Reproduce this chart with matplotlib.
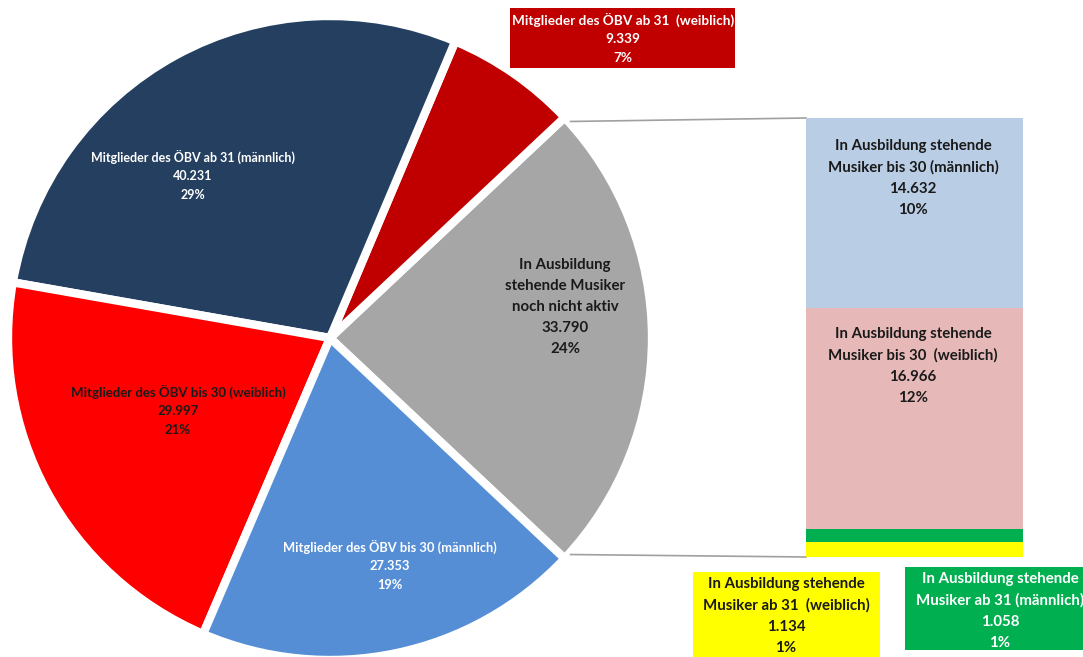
import numpy as np
import matplotlib.pyplot as plt
from matplotlib.patches import Rectangle

plt.rcParams['font.family'] = ['Lato', 'DejaVu Sans']

W, H = 1083, 657

# ------------------------------------------------
# Data
# ------------------------------------------------
pie_labels = [
    "In Ausbildung\nstehende Musiker\nnoch nicht aktiv",
    "Mitglieder des ÖBV ab 31  (weiblich)",
    "Mitglieder des ÖBV ab 31 (männlich)",
    "Mitglieder des ÖBV bis 30 (weiblich)",
    "Mitglieder des ÖBV bis 30 (männlich)",
]
pie_values = [33790, 9339, 40231, 29997, 27353]
pie_colors = ["#A6A6A6", "#C00000", "#243F60", "#FF0000", "#558ED5"]

bar_labels = [
    "In Ausbildung stehende\nMusiker ab 31  (weiblich)",
    "In Ausbildung stehende\nMusiker ab 31 (männlich)",
    "In Ausbildung stehende\nMusiker bis 30  (weiblich)",
    "In Ausbildung stehende\nMusiker bis 30 (männlich)",
]
bar_values = [1134, 1058, 16966, 14632]
bar_colors = ["#FFFF00", "#00B050", "#E6B9B8", "#B9CDE5"]


def fmt(v):
    return f"{v:,}".replace(",", ".")


def pct(v, total):
    return f"{round(100 * v / total)}%"


total = sum(pie_values)

fig = plt.figure(figsize=(W / 100, H / 100), dpi=100)
ax = fig.add_axes([0, 0, 1, 1])

# ------------------------------------------------
# Pie
# ------------------------------------------------
cx, cy, R = 330, H - 338, 322
start = -360 * pie_values[0] / total / 2
wedges, _ = ax.pie(pie_values, colors=pie_colors, startangle=start, counterclock=True,
                   center=(cx, cy), radius=R,
                   wedgeprops=dict(edgecolor="white", linewidth=6))

# ------------------------------------------------
# Bar (stacked, scaled so it spans the gray slice height)
# ------------------------------------------------
bar_x, bar_w = 914.5, 217
bar_bottom, bar_top = H - 557, H - 118
scale = (bar_top - bar_bottom) / sum(bar_values)
heights = [v * scale for v in bar_values]
bottoms = bar_bottom + np.concatenate([[0], np.cumsum(heights)[:-1]])
ax.bar([bar_x] * len(bar_values), heights, width=bar_w, bottom=bottoms,
       color=bar_colors, linewidth=0, zorder=2)

# connector lines from gray slice to bar
g = wedges[0]
for ang, yb in [(g.theta2, bar_top), (g.theta1, bar_bottom)]:
    px = cx + R * np.cos(np.radians(ang)) + 6
    py = cy + R * np.sin(np.radians(ang)) - np.sign(np.sin(np.radians(ang))) * 4
    ax.plot([px, bar_x - bar_w / 2], [py, yb], color="#A0A0A0", lw=1.2, zorder=1)

# ------------------------------------------------
# Labels
# ------------------------------------------------
pie_label_pos = [(565, 307), (623, 38), (193, 175), (178, 410), (390, 565)]
pie_text_col = ["#1A1A1A", "white", "white", "#1A1A1A", "white"]
pie_text_size = [10.8, 9.8, 9, 9.5, 9.3]
for lab, v, (x, y), c, s in zip(pie_labels, pie_values, pie_label_pos, pie_text_col, pie_text_size):
    ax.text(x, H - y, f"{lab}\n{fmt(v)}\n{pct(v, total)}", ha="center", va="center",
            color=c, fontsize=s, fontweight="bold", linespacing=1.65, zorder=4)

# box behind the small dark red slice label
ax.add_patch(Rectangle((510, H - 68), 225, 60, facecolor="#C00000", edgecolor="none", zorder=3))

bar_label_pos = [(786, 616), (1000, 611), (913, 366), (913, 178)]
bar_text_col = ["#1A1A1A", "white", "#1A1A1A", "#1A1A1A"]
for lab, v, (x, y), c in zip(bar_labels, bar_values, bar_label_pos, bar_text_col):
    ax.text(x, H - y, f"{lab}\n{fmt(v)}\n{pct(v, total)}", ha="center", va="center",
            color=c, fontsize=10.8, fontweight="bold", linespacing=1.65, zorder=4)

ax.add_patch(Rectangle((693, 0), 187, H - 572, facecolor="#FFFF00", edgecolor="none", zorder=3))
ax.add_patch(Rectangle((905, H - 650), 190, 83, facecolor="#00B050", edgecolor="none", zorder=3))

ax.set_xlim(0, W)
ax.set_ylim(0, H)
ax.set_aspect("equal")
ax.axis("off")

fig.savefig("out.png", dpi=100, facecolor="white")
